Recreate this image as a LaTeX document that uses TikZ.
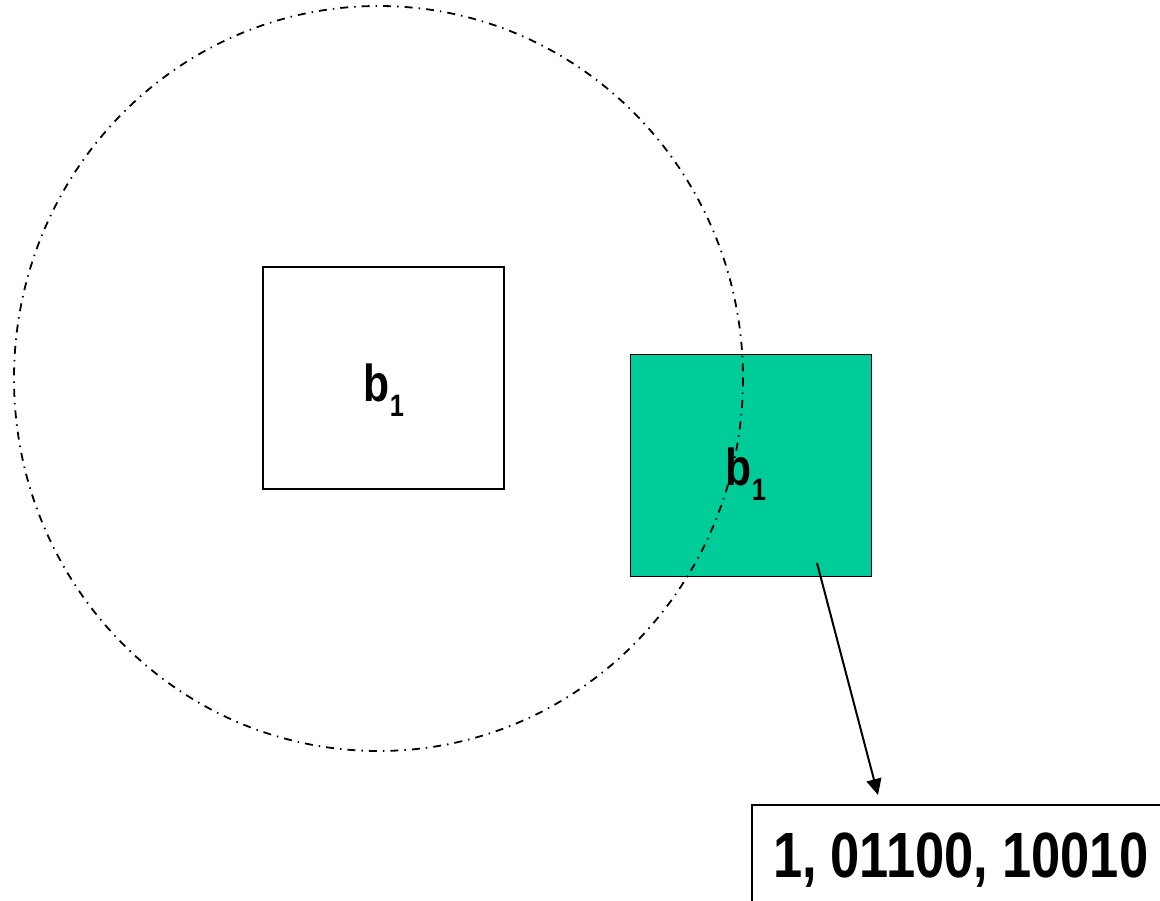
\documentclass[tikz,border=0pt]{standalone}
\usepackage{fontspec}
\setmainfont{Liberation Sans}
\newfontfamily\schmal[FakeStretch=0.82]{Liberation Sans}
\newfontfamily\codefont[FakeStretch=0.82]{Liberation Sans}
\usetikzlibrary{arrows.meta}
\definecolor{blockgruen}{RGB}{0,204,153}
% b mit tiefgestellter 1
\newcommand{\bsub}{b\raisebox{-15pt}{\fontsize{31}{31}\selectfont 1}}
% Abstand nach dem Komma
\newcommand{\ksp}{\hspace{14pt}}

\begin{document}
\begin{tikzpicture}[x=1pt, y=-1pt, line width=1.7pt,
    kasten/.style={draw, minimum width=241pt, minimum height=222pt, inner sep=0pt},
    marke/.style={inner sep=0pt, font={\schmal\bfseries\fontsize{52}{56}\selectfont}},
    codebox/.style={draw, line width=2pt, anchor=north west, inner xsep=21pt, inner ysep=28pt,
      text width=480pt, align=left, font={\codefont\bfseries\fontsize{64}{70}\selectfont}},
    strichpunkt/.style={line width=1.8pt, dash pattern=on 8pt off 6pt on 1.5pt off 6pt},
    pfeil/.style={-{Triangle[length=16pt, width=15pt]}, line width=2pt},
  ]
  \useasboundingbox (0,0) rectangle (1160,901);
  \clip (0,0) rectangle (1160,901);

  % ---------------- Bloecke ----------------------------------------
  \node[kasten] (alt) at (383.5,378) {};
  \node[kasten, fill=blockgruen] (neu) at (751,465.5) {};

  % ---------------- Suchbereich (ueber dem gruenen Block) ----------
  \draw[strichpunkt] (378.5,378.5) ellipse [x radius=364.5, y radius=372.5];

  \node[marke] (altmarke) at (384,390) {\bsub};
  \node[marke] (neumarke) at (746,474.5) {\bsub};

  % ---------------- Kodierung --------------------------------------
  \node[codebox] (code) at (751,804) {1,\ksp01100,\ksp10010};
  \coordinate (pfeilstart) at (817,563);
  \draw[pfeil] (pfeilstart) -- ([xshift=127pt, yshift=9pt]code.north west);
\end{tikzpicture}
\end{document}
